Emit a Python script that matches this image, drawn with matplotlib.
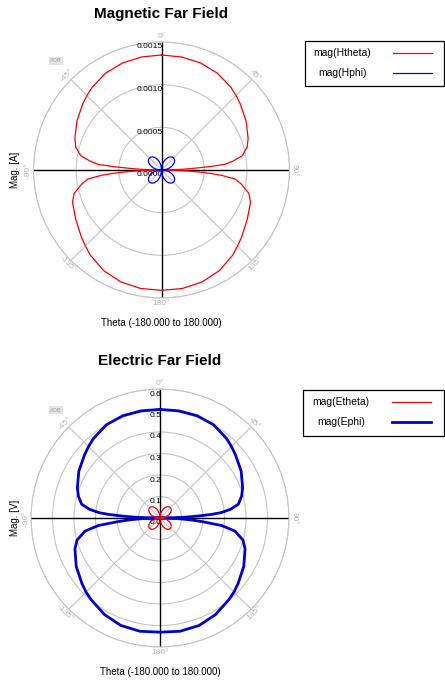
import numpy as np
import matplotlib
matplotlib.use("Agg")
import matplotlib.pyplot as plt
from matplotlib.patches import Rectangle
from matplotlib.lines import Line2D

plt.rcParams['font.family'] = ['Liberation Sans', 'DejaVu Sans']

W, H = 445, 682

# angles (deg, clockwise from top) for the right half of the main lobes
lobe_deg = [0, 10, 20, 30, 40, 45, 50, 60, 70, 75, 80, 83, 85, 86, 87, 88, 89, 90,
            91, 92, 93, 94, 95, 97, 100, 105, 110, 120, 130, 135, 140, 150, 160, 170, 180]

# mag(Htheta) [A]
htheta = [1.348, 1.345, 1.335, 1.31, 1.265, 1.235, 1.205, 1.145, 1.08, 1.04, 0.96, 0.84,
          0.74, 0.56, 0.38, 0.25, 0.12, 0.0,
          0.14, 0.28, 0.43, 0.57, 0.70, 0.87, 0.95, 1.06, 1.11, 1.16, 1.225, 1.26, 1.30,
          1.36, 1.395, 1.41, 1.41]
htheta = [v * 1e-3 for v in htheta]

# mag(Ephi) [V]
ephi = [0.505, 0.506, 0.506, 0.50, 0.482, 0.470, 0.458, 0.436, 0.409, 0.393, 0.37, 0.33,
        0.285, 0.24, 0.18, 0.125, 0.06, 0.0,
        0.04, 0.08, 0.12, 0.16, 0.20, 0.29, 0.355, 0.40, 0.421, 0.45, 0.474, 0.487, 0.497,
        0.518, 0.532, 0.535, 0.531]

# four-leaf patterns, one quadrant every 5 deg
leaf_deg = list(range(0, 95, 5))
hphi_q = [0, 0.35, 0.68, 1.0, 1.29, 1.53, 1.73, 1.88, 1.97, 2.0,
          1.97, 1.88, 1.73, 1.53, 1.29, 1.0, 0.68, 0.35, 0]
hphi_q = [v * 1e-4 for v in hphi_q]
etheta_q = [0, 0.012, 0.023, 0.034, 0.044, 0.052, 0.059, 0.064, 0.067, 0.068,
            0.067, 0.064, 0.059, 0.052, 0.044, 0.034, 0.023, 0.012, 0]

h_rticks = [0.0005, 0.0010, 0.0015]
h_rlabels = ['0.0000', '0.0005', '0.0010', '0.0015']
e_rticks = [0.1, 0.2, 0.3, 0.4, 0.5, 0.6]
e_rlabels = ['0.0', '0.1', '0.2', '0.3', '0.4', '0.5', '0.6']

ang_pos = [0, 45, 90, 135, 180, 225, 270, 315]
ang_labels = ['0°', '45°', '90°', '135°', '180°', '-135°', '-90°', '-45°']
ang_rot = [0, -45, -90, 45, 0, -45, 90, 45]


def full_lobe(deg, vals):
    # right half then mirrored left half, closed
    th = list(deg) + [360 - d for d in reversed(deg[:-1])]
    r = list(vals) + list(reversed(vals[:-1]))
    return np.deg2rad(th), r


def full_leaf(deg, vals):
    th, r = [], []
    for q in range(4):
        th += [d + 90 * q for d in deg[:-1]]
        r += vals[:-1]
    th.append(360)
    r.append(vals[-1])
    return np.deg2rad(th), r


def setup_polar(ax, rmax, rticks, rlabels):
    ax.set_theta_zero_location('N')
    ax.set_theta_direction(-1)
    ax.set_ylim(0, rmax)
    ax.set_yticks(rticks)
    ax.set_yticklabels([])
    ax.set_xticks(np.deg2rad([45, 135, 225, 315]))
    ax.set_xticklabels([])
    ax.grid(True, color='#c4c4c4', lw=0.8)
    ax.spines['polar'].set_color('#c4c4c4')
    ax.spines['polar'].set_linewidth(0.8)
    for a in [0, 90, 180, 270]:
        ax.plot([np.deg2rad(a)] * 2, [0, rmax], color='black', lw=1.0, zorder=2)
    for a, lab, rot in zip(ang_pos, ang_labels, ang_rot):
        ax.text(np.deg2rad(a), rmax * 1.04, lab, rotation=rot, rotation_mode='anchor',
                ha='center', va='center', fontsize=6, color='#b4b4b4', clip_on=False)
    for r, lab in zip([0] + list(rticks), rlabels):
        ax.annotate(lab, xy=(0, r), xytext=(0.8, -3.6), textcoords='offset points',
                    ha='right', va='center', fontsize=6, color='black', zorder=5)


def px(x, y):
    return x / W, 1 - y / H


def draw_legend(fig, box, entries):
    x0, y0, x1, y1 = box
    fx, fy = px(x0, y1)
    fig.patches.append(Rectangle((fx, fy), (x1 - x0) / W, (y1 - y0) / H,
                                 transform=fig.transFigure, facecolor='white',
                                 edgecolor='black', lw=0.9))
    for lab, tx, ty, color, lw, lx0, lx1 in entries:
        fig.text(*px(tx, ty), lab, ha='center', va='center', fontsize=7.5)
        fig.lines.append(Line2D([lx0 / W, lx1 / W], [1 - ty / H] * 2, color=color, lw=lw,
                                transform=fig.transFigure))


def aob_tag(fig, x, y):
    fig.text(*px(x, y), 'AOB', ha='center', va='center', fontsize=4, color='#a0a0a0',
             bbox=dict(facecolor='#e4e4e4', edgecolor='none', pad=1.2))


fig = plt.figure(figsize=(W / 100, H / 100), dpi=100)

# Magnetic far field
ax1 = fig.add_axes([33.5 / W, 1 - 298 / H, 256 / W, 256 / H], projection='polar')
setup_polar(ax1, 0.0015, h_rticks, h_rlabels)
th, r = full_lobe(lobe_deg, htheta)
ax1.plot(th, r, color='#ff0000', lw=0.9, zorder=3)
th, r = full_leaf(leaf_deg, hphi_q)
ax1.plot(th, r, color='#0000ff', lw=0.9, zorder=3)

fig.text(*px(161.5, 14), 'Magnetic Far Field', ha='center', va='center',
         fontsize=11, fontweight='bold')
fig.text(*px(161.5, 323), 'Theta (-180.000 to 180.000)', ha='center', va='center', fontsize=7)
fig.text(*px(15, 170), 'Mag. [A]', ha='center', va='center', rotation=90, fontsize=7)
aob_tag(fig, 56, 61)
draw_legend(fig, (305, 41, 444, 86),
            [('mag(Htheta)', 342.5, 53, '#ff0000', 0.9, 393, 432),
             ('mag(Hphi)', 342.5, 73, '#0000ff', 0.9, 393, 432)])

# Electric far field
ax2 = fig.add_axes([31 / W, 1 - 647 / H, 258 / W, 258 / H], projection='polar')
setup_polar(ax2, 0.6, e_rticks, e_rlabels)
th, r = full_lobe(lobe_deg, ephi)
ax2.plot(th, r, color='#0000cc', lw=2.0, zorder=3)
th, r = full_leaf(leaf_deg, etheta_q)
ax2.plot(th, r, color='#ff0000', lw=0.9, zorder=3)

fig.text(*px(160, 361), 'Electric Far Field', ha='center', va='center',
         fontsize=11, fontweight='bold')
fig.text(*px(160, 672), 'Theta (-180.000 to 180.000)', ha='center', va='center', fontsize=7)
fig.text(*px(15, 518), 'Mag. [V]', ha='center', va='center', rotation=90, fontsize=7)
aob_tag(fig, 56, 410)
draw_legend(fig, (303, 390, 444, 436),
            [('mag(Etheta)', 341, 402, '#ff0000', 0.9, 392, 431),
             ('mag(Ephi)', 341, 422, '#0000cc', 2.0, 392, 431)])

fig.savefig('out.png', dpi=100)
